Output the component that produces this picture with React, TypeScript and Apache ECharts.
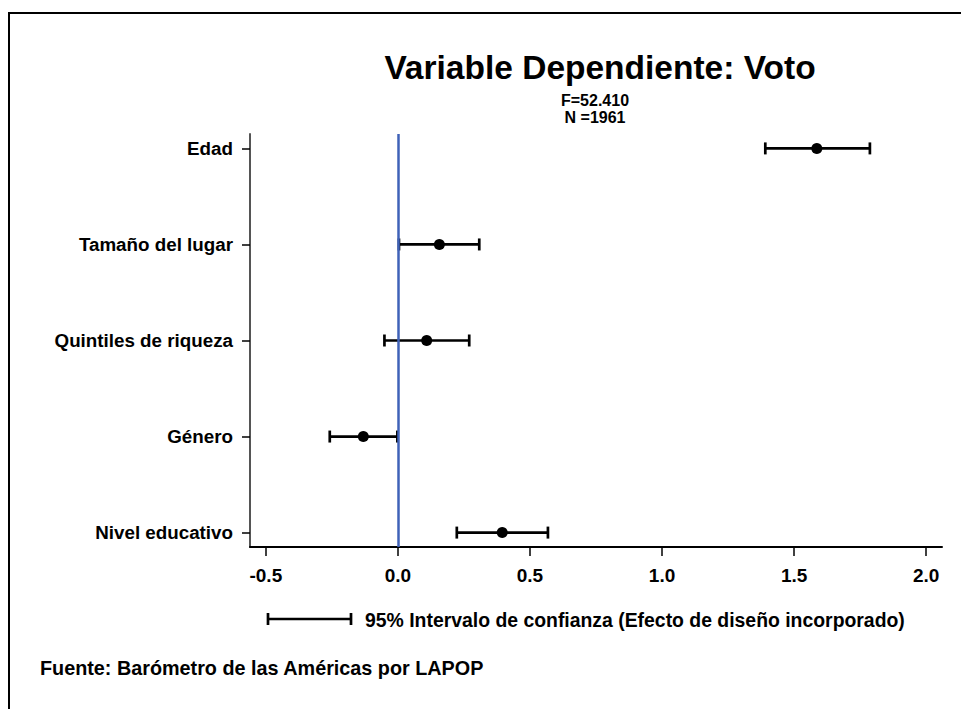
import React, { useEffect, useRef } from "react";
import * as echarts from "echarts";

const titleText = "Variable Dependiente: Voto";
const statLines = ["F=52.410", "N =1961"];
const categories = ["Edad", "Tamaño del lugar", "Quintiles de riqueza", "Género", "Nivel educativo"];
const estimates = [1.586, 0.157, 0.109, -0.131, 0.395];
const lowerCI = [1.391, 0.004, -0.051, -0.258, 0.223];
const upperCI = [1.787, 0.308, 0.27, -0.002, 0.568];
const xTicks = [-0.5, 0, 0.5, 1, 1.5, 2];
const legendText = "95% Intervalo de confianza (Efecto de diseño incorporado)";
const sourceText = "Fuente: Barómetro de las Américas por LAPOP";

const FONT = "'Liberation Sans', Arial, sans-serif";

export default function App() {
  const ref = useRef<HTMLDivElement>(null);
  useEffect(() => {
    if (!ref.current) return;
    const chart = echarts.init(ref.current, null, { renderer: "svg" });
    const n = categories.length;
    const yVals = categories.map((_, i) => n - i);
    const yTicks = yVals.slice().sort((a, b) => a - b);
    const errData = categories.map((_, i) => [lowerCI[i], upperCI[i], yVals[i]]);
    const ptData = categories.map((_, i) => [estimates[i], yVals[i]]);

    chart.setOption({
      animation: false,
      backgroundColor: "#fff",
      textStyle: { fontFamily: FONT },
      grid: { left: 250, right: 19, top: 134, bottom: 162 },
      xAxis: {
        type: "value",
        min: -0.56,
        max: 2.06,
        axisLine: { show: true, onZero: false, lineStyle: { color: "#000", width: 2 } },
        axisTick: { show: true, customValues: xTicks, length: 9, lineStyle: { color: "#000", width: 1.5 } },
        axisLabel: {
          customValues: xTicks,
          formatter: (v: number) => v.toFixed(1),
          margin: 19,
          fontSize: 19,
          fontWeight: "bold",
          color: "#000",
          fontFamily: FONT,
        },
        splitLine: { show: false },
      },
      yAxis: {
        type: "value",
        min: 0.85,
        max: 5.15,
        axisLine: { show: true, onZero: false, lineStyle: { color: "#555", width: 2 } },
        axisTick: { show: true, customValues: yTicks, length: 8, lineStyle: { color: "#000", width: 1.5 } },
        axisLabel: {
          customValues: yTicks,
          formatter: (v: number) => categories[n - Math.round(v)] ?? "",
          margin: 17,
          fontSize: 18.8,
          fontWeight: "bold",
          color: "#000",
          fontFamily: FONT,
        },
        splitLine: { show: false },
      },
      series: [
        {
          type: "scatter",
          data: [],
          z: 1,
          markLine: {
            silent: true,
            symbol: "none",
            label: { show: false },
            lineStyle: { color: "#3f62b8", width: 2.5, type: "solid", opacity: 1 },
            data: [{ xAxis: 0 }],
          },
        },
        {
          type: "custom",
          z: 3,
          data: errData,
          renderItem: (params: any, api: any) => {
            const lo = api.coord([api.value(0), api.value(2)]);
            const hi = api.coord([api.value(1), api.value(2)]);
            const cap = 6;
            const style = { stroke: "#000", lineWidth: 2.7 };
            return {
              type: "group",
              children: [
                { type: "line", shape: { x1: lo[0], y1: lo[1], x2: hi[0], y2: hi[1] }, style },
                { type: "line", shape: { x1: lo[0], y1: lo[1] - cap, x2: lo[0], y2: lo[1] + cap }, style },
                { type: "line", shape: { x1: hi[0], y1: hi[1] - cap, x2: hi[0], y2: hi[1] + cap }, style },
              ],
            };
          },
        },
        {
          type: "scatter",
          z: 4,
          data: ptData,
          symbol: "circle",
          symbolSize: 11,
          itemStyle: { color: "#000", opacity: 1 },
        },
      ],
      graphic: [
        {
          type: "rect",
          shape: { x: 9, y: 13, width: 1000, height: 800 },
          style: { fill: "none", stroke: "#000", lineWidth: 2 },
          silent: true,
        },
        {
          type: "text",
          x: 600,
          y: 67,
          style: {
            text: titleText,
            font: `bold 33.5px ${FONT}`,
            fill: "#000",
            align: "center",
            verticalAlign: "middle",
          },
        },
        {
          type: "text",
          x: 595,
          y: 100,
          style: {
            text: statLines[0],
            font: `bold 16px ${FONT}`,
            fill: "#000",
            align: "center",
            verticalAlign: "middle",
          },
        },
        {
          type: "text",
          x: 595,
          y: 117,
          style: {
            text: statLines[1],
            font: `bold 16px ${FONT}`,
            fill: "#000",
            align: "center",
            verticalAlign: "middle",
          },
        },
        { type: "line", shape: { x1: 268, y1: 619, x2: 351, y2: 619 }, style: { stroke: "#000", lineWidth: 2.7 } },
        { type: "line", shape: { x1: 268, y1: 613, x2: 268, y2: 625 }, style: { stroke: "#000", lineWidth: 2.7 } },
        { type: "line", shape: { x1: 351, y1: 613, x2: 351, y2: 625 }, style: { stroke: "#000", lineWidth: 2.7 } },
        {
          type: "text",
          x: 365,
          y: 620,
          style: {
            text: legendText,
            font: `bold 19.4px ${FONT}`,
            fill: "#000",
            align: "left",
            verticalAlign: "middle",
          },
        },
        {
          type: "text",
          x: 40,
          y: 668,
          style: {
            text: sourceText,
            font: `bold 19.8px ${FONT}`,
            fill: "#000",
            align: "left",
            verticalAlign: "middle",
          },
        },
      ],
    });
    return () => chart.dispose();
  }, []);
  return (
    <div
      ref={ref}
      style={{ position: "fixed", left: 0, top: 0, width: 961, height: 709, background: "#fff" }}
    />
  );
}
